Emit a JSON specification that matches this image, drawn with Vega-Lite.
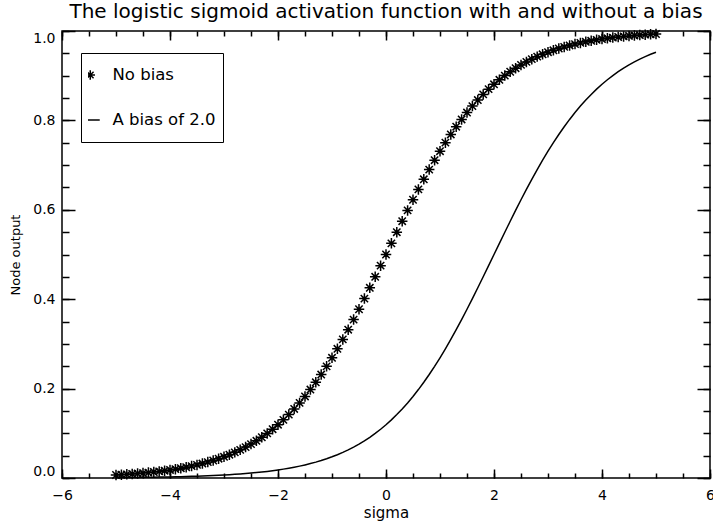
{
  "$schema": "https://vega.github.io/schema/vega-lite/v6.json",
  "width": 648,
  "height": 447,
  "autosize": {"type": "none"},
  "padding": {"left": 62, "top": 31, "right": 3, "bottom": 49},
  "background": "white",
  "title": {"text": "The logistic sigmoid activation function with and without a bias", "font": "DejaVu Sans", "fontSize": 20, "fontWeight": "normal", "color": "black", "anchor": "middle", "frame": "group", "baseline": "alphabetic", "offset": 11, "dy": 23},
  "config": {
    "view": {"stroke": "black", "strokeWidth": 1.5},
    "axis": {"grid": false, "domain": false, "labelFont": "DejaVu Sans", "titleFont": "DejaVu Sans", "labelColor": "black", "titleColor": "black", "tickColor": "black", "tickWidth": 1.5, "titleFontWeight": "normal"}
  },
  "data": {"values": [
    {"x": -5.0, "s": 0.00669, "b": 0.00091}, {"x": -4.9, "s": 0.00739, "b": 0.00101}, {"x": -4.8, "s": 0.00816, "b": 0.00111}, {"x": -4.7, "s": 0.00901, "b": 0.00123}, {"x": -4.6, "s": 0.00995, "b": 0.00136},
    {"x": -4.5, "s": 0.01099, "b": 0.00150}, {"x": -4.4, "s": 0.01213, "b": 0.00166}, {"x": -4.3, "s": 0.01339, "b": 0.00183}, {"x": -4.2, "s": 0.01478, "b": 0.00202}, {"x": -4.1, "s": 0.01630, "b": 0.00224},
    {"x": -4.0, "s": 0.01799, "b": 0.00247}, {"x": -3.9, "s": 0.01984, "b": 0.00273}, {"x": -3.8, "s": 0.02188, "b": 0.00302}, {"x": -3.7, "s": 0.02413, "b": 0.00333}, {"x": -3.6, "s": 0.02660, "b": 0.00368},
    {"x": -3.5, "s": 0.02931, "b": 0.00407}, {"x": -3.4, "s": 0.03230, "b": 0.00450}, {"x": -3.3, "s": 0.03557, "b": 0.00497}, {"x": -3.2, "s": 0.03917, "b": 0.00549}, {"x": -3.1, "s": 0.04311, "b": 0.00606},
    {"x": -3.0, "s": 0.04743, "b": 0.00669}, {"x": -2.9, "s": 0.05216, "b": 0.00739}, {"x": -2.8, "s": 0.05733, "b": 0.00816}, {"x": -2.7, "s": 0.06297, "b": 0.00901}, {"x": -2.6, "s": 0.06914, "b": 0.00995},
    {"x": -2.5, "s": 0.07586, "b": 0.01099}, {"x": -2.4, "s": 0.08317, "b": 0.01213}, {"x": -2.3, "s": 0.09113, "b": 0.01339}, {"x": -2.2, "s": 0.09975, "b": 0.01478}, {"x": -2.1, "s": 0.10910, "b": 0.01630},
    {"x": -2.0, "s": 0.11920, "b": 0.01799}, {"x": -1.9, "s": 0.13011, "b": 0.01984}, {"x": -1.8, "s": 0.14185, "b": 0.02188}, {"x": -1.7, "s": 0.15447, "b": 0.02413}, {"x": -1.6, "s": 0.16798, "b": 0.02660},
    {"x": -1.5, "s": 0.18243, "b": 0.02931}, {"x": -1.4, "s": 0.19782, "b": 0.03230}, {"x": -1.3, "s": 0.21417, "b": 0.03557}, {"x": -1.2, "s": 0.23148, "b": 0.03917}, {"x": -1.1, "s": 0.24974, "b": 0.04311},
    {"x": -1.0, "s": 0.26894, "b": 0.04743}, {"x": -0.9, "s": 0.28905, "b": 0.05216}, {"x": -0.8, "s": 0.31003, "b": 0.05733}, {"x": -0.7, "s": 0.33181, "b": 0.06297}, {"x": -0.6, "s": 0.35434, "b": 0.06914},
    {"x": -0.5, "s": 0.37754, "b": 0.07586}, {"x": -0.4, "s": 0.40131, "b": 0.08317}, {"x": -0.3, "s": 0.42556, "b": 0.09113}, {"x": -0.2, "s": 0.45017, "b": 0.09975}, {"x": -0.1, "s": 0.47502, "b": 0.10910},
    {"x": 0.0, "s": 0.50000, "b": 0.11920}, {"x": 0.1, "s": 0.52498, "b": 0.13011}, {"x": 0.2, "s": 0.54983, "b": 0.14185}, {"x": 0.3, "s": 0.57444, "b": 0.15447}, {"x": 0.4, "s": 0.59869, "b": 0.16798},
    {"x": 0.5, "s": 0.62246, "b": 0.18243}, {"x": 0.6, "s": 0.64566, "b": 0.19782}, {"x": 0.7, "s": 0.66819, "b": 0.21417}, {"x": 0.8, "s": 0.68997, "b": 0.23148}, {"x": 0.9, "s": 0.71095, "b": 0.24974},
    {"x": 1.0, "s": 0.73106, "b": 0.26894}, {"x": 1.1, "s": 0.75026, "b": 0.28905}, {"x": 1.2, "s": 0.76852, "b": 0.31003}, {"x": 1.3, "s": 0.78583, "b": 0.33181}, {"x": 1.4, "s": 0.80218, "b": 0.35434},
    {"x": 1.5, "s": 0.81757, "b": 0.37754}, {"x": 1.6, "s": 0.83202, "b": 0.40131}, {"x": 1.7, "s": 0.84553, "b": 0.42556}, {"x": 1.8, "s": 0.85815, "b": 0.45017}, {"x": 1.9, "s": 0.86989, "b": 0.47502},
    {"x": 2.0, "s": 0.88080, "b": 0.50000}, {"x": 2.1, "s": 0.89090, "b": 0.52498}, {"x": 2.2, "s": 0.90025, "b": 0.54983}, {"x": 2.3, "s": 0.90887, "b": 0.57444}, {"x": 2.4, "s": 0.91683, "b": 0.59869},
    {"x": 2.5, "s": 0.92414, "b": 0.62246}, {"x": 2.6, "s": 0.93086, "b": 0.64566}, {"x": 2.7, "s": 0.93703, "b": 0.66819}, {"x": 2.8, "s": 0.94267, "b": 0.68997}, {"x": 2.9, "s": 0.94784, "b": 0.71095},
    {"x": 3.0, "s": 0.95257, "b": 0.73106}, {"x": 3.1, "s": 0.95689, "b": 0.75026}, {"x": 3.2, "s": 0.96083, "b": 0.76852}, {"x": 3.3, "s": 0.96443, "b": 0.78583}, {"x": 3.4, "s": 0.96770, "b": 0.80218},
    {"x": 3.5, "s": 0.97069, "b": 0.81757}, {"x": 3.6, "s": 0.97340, "b": 0.83202}, {"x": 3.7, "s": 0.97587, "b": 0.84553}, {"x": 3.8, "s": 0.97812, "b": 0.85815}, {"x": 3.9, "s": 0.98016, "b": 0.86989},
    {"x": 4.0, "s": 0.98201, "b": 0.88080}, {"x": 4.1, "s": 0.98370, "b": 0.89090}, {"x": 4.2, "s": 0.98522, "b": 0.90025}, {"x": 4.3, "s": 0.98661, "b": 0.90887}, {"x": 4.4, "s": 0.98787, "b": 0.91683},
    {"x": 4.5, "s": 0.98901, "b": 0.92414}, {"x": 4.6, "s": 0.99005, "b": 0.93086}, {"x": 4.7, "s": 0.99099, "b": 0.93703}, {"x": 4.8, "s": 0.99184, "b": 0.94267}, {"x": 4.9, "s": 0.99261, "b": 0.94784},
    {"x": 5.0, "s": 0.99331, "b": 0.95257}
  ]},
  "resolve": {"axis": {"x": "independent", "y": "independent"}},
  "layer": [
    {
      "mark": {"type": "point", "filled": false, "stroke": "black", "strokeWidth": 1.5, "size": 110, "opacity": 1},
      "encoding": {
        "x": {"field": "x", "type": "quantitative", "scale": {"domain": [-6, 6], "nice": false, "zero": false},
          "axis": {"orient": "bottom", "values": [-6, -4, -2, 0, 2, 4, 6], "ticks": false, "labelPadding": 10, "labelFontSize": 14, "labelFlush": false, "title": "sigma", "titleFontSize": 15, "titlePadding": 3}},
        "y": {"field": "s", "type": "quantitative", "scale": {"domain": [0, 1], "nice": false, "zero": false},
          "axis": {"orient": "left", "values": [0, 0.2, 0.4, 0.6, 0.8, 1], "format": ".1f", "ticks": false, "labelPadding": 7, "labelFontSize": 14, "labelFlush": true, "labelFlushOffset": 0, "title": "Node output", "titleFontSize": 13, "titlePadding": 10}},
        "shape": {"datum": "No bias", "type": "nominal",
          "scale": {"domain": ["No bias", "A bias of 2.0"], "range": ["M0,-1L0,1M-1,0L1,0M-0.7,-0.7L0.7,0.7M-0.7,0.7L0.7,-0.7", "M-1,0L2,0"]},
          "legend": {"title": null, "orient": "none", "legendX": 19, "legendY": 22, "strokeColor": "black", "fillColor": "white", "padding": 7, "clipHeight": 30, "rowPadding": 15, "labelFont": "DejaVu Sans", "labelFontSize": 16.5, "labelColor": "black", "symbolStrokeColor": "black", "symbolStrokeWidth": 1.5, "symbolSize": 90, "symbolFillColor": "transparent", "symbolOffset": -6, "labelOffset": 14}}
      }
    },
    {
      "mark": {"type": "line", "stroke": "black", "strokeWidth": 1.5},
      "encoding": {
        "x": {"field": "x", "type": "quantitative", "axis": {"orient": "bottom", "values": [-6, -4, -2, 0, 2, 4, 6], "labels": false, "tickSize": -9, "title": null}},
        "y": {"field": "b", "type": "quantitative", "axis": {"orient": "left", "values": [0, 0.2, 0.4, 0.6, 0.8, 1], "labels": false, "tickSize": -13, "title": null}}
      }
    },
    {
      "mark": {"type": "line", "strokeOpacity": 0},
      "encoding": {
        "x": {"field": "x", "type": "quantitative", "axis": {"orient": "bottom", "values": [-6, -5.5, -5, -4.5, -4, -3.5, -3, -2.5, -2, -1.5, -1, -0.5, 0, 0.5, 1, 1.5, 2, 2.5, 3, 3.5, 4, 4.5, 5, 5.5, 6], "labels": false, "tickSize": -5, "title": null}},
        "y": {"field": "b", "type": "quantitative", "axis": {"orient": "left", "values": [0, 0.05, 0.1, 0.15, 0.2, 0.25, 0.3, 0.35, 0.4, 0.45, 0.5, 0.55, 0.6, 0.65, 0.7, 0.75, 0.8, 0.85, 0.9, 0.95, 1], "labels": false, "tickSize": -7, "title": null}}
      }
    },
    {
      "mark": {"type": "line", "strokeOpacity": 0},
      "encoding": {
        "x": {"field": "x", "type": "quantitative", "axis": {"orient": "top", "values": [-6, -4, -2, 0, 2, 4, 6], "labels": false, "tickSize": -9, "title": null}},
        "y": {"field": "b", "type": "quantitative", "axis": {"orient": "right", "values": [0, 0.2, 0.4, 0.6, 0.8, 1], "labels": false, "tickSize": -13, "title": null}}
      }
    },
    {
      "mark": {"type": "line", "strokeOpacity": 0},
      "encoding": {
        "x": {"field": "x", "type": "quantitative", "axis": {"orient": "top", "values": [-6, -5.5, -5, -4.5, -4, -3.5, -3, -2.5, -2, -1.5, -1, -0.5, 0, 0.5, 1, 1.5, 2, 2.5, 3, 3.5, 4, 4.5, 5, 5.5, 6], "labels": false, "tickSize": -5, "title": null}},
        "y": {"field": "b", "type": "quantitative", "axis": {"orient": "right", "values": [0, 0.05, 0.1, 0.15, 0.2, 0.25, 0.3, 0.35, 0.4, 0.45, 0.5, 0.55, 0.6, 0.65, 0.7, 0.75, 0.8, 0.85, 0.9, 0.95, 1], "labels": false, "tickSize": -7, "title": null}}
      }
    }
  ]
}
